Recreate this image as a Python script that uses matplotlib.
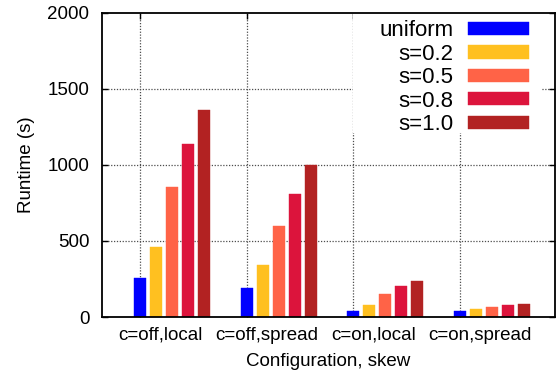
import matplotlib
matplotlib.use("Agg")
import matplotlib.pyplot as plt
from matplotlib.patches import Rectangle
import numpy as np

categories = ["c=off,local", "c=off,spread", "c=on,local", "c=on,spread"]
series_names = ["uniform", "s=0.2", "s=0.5", "s=0.8", "s=1.0"]
uniform = [254, 191, 42, 42]
s02 = [463, 345, 82, 55]
s05 = [853, 599, 154, 68]
s08 = [1136, 809, 202, 77]
s10 = [1364, 1000, 240, 88]
series = [uniform, s02, s05, s08, s10]
colors = ["#0000ff", "#ffc020", "#ff6347", "#dc143c", "#b22222"]

plt.rcParams['font.family'] = ['Liberation Sans', 'DejaVu Sans']

fig = plt.figure(figsize=(5.56, 3.74), dpi=100)
ax = fig.add_axes([102/556, 1-317/374, (555-102)/556, (317-13)/374])

x = np.arange(len(categories))
width = 0.1125
step = 0.15
for k, (name, vals, c) in enumerate(zip(series_names, series, colors)):
    ax.bar(x + k*step, vals, width=width, color=c, label=name, zorder=3,
           edgecolor=c, linewidth=0.3)

ax.set_xlim(-0.357, 3.89)
ax.set_ylim(0, 2000)
ax.set_yticks([0, 500, 1000, 1500, 2000])
ax.set_xticks(x + 0.19)
ax.set_xticklabels(categories)
ax.set_xticks(x, minor=True)
ax.tick_params(axis='x', which='major', length=0, labelsize=13.5, pad=7)
ax.tick_params(axis='x', which='minor', direction='in', length=4, top=True, bottom=True, width=1)
ax.tick_params(axis='y', direction='in', length=4, left=True, right=True, labelsize=13.5, pad=9, width=1)

grid_kw = dict(color='0.3', linestyle=(0, (1, 1.3)), linewidth=0.9, zorder=1)
for xi in x:
    ax.axvline(xi, **grid_kw)
for yv in [500, 1000, 1500]:
    ax.axhline(yv, **grid_kw)

# white key box hiding the grid behind the legend
ax.add_patch(Rectangle((0.554, 0.605), 0.971-0.554, 0.395, transform=ax.transAxes,
                       facecolor='white', edgecolor='none', zorder=2))

for s in ax.spines.values():
    s.set_linewidth(1.3)
    s.set_zorder(5)

ax.set_ylabel("Runtime (s)", fontsize=13.5, labelpad=9)
ax.set_xlabel("Configuration, skew", fontsize=13.5, labelpad=7)

leg = ax.legend(loc='upper right', bbox_to_anchor=(0.947, 0.983), markerfirst=False,
                frameon=False, fontsize=16,
                handlelength=2.75, handleheight=0.54, labelspacing=0.11,
                handletextpad=0.65, borderpad=0.1, borderaxespad=0.0)
leg.set_zorder(4)

fig.savefig("out.png", dpi=100)
